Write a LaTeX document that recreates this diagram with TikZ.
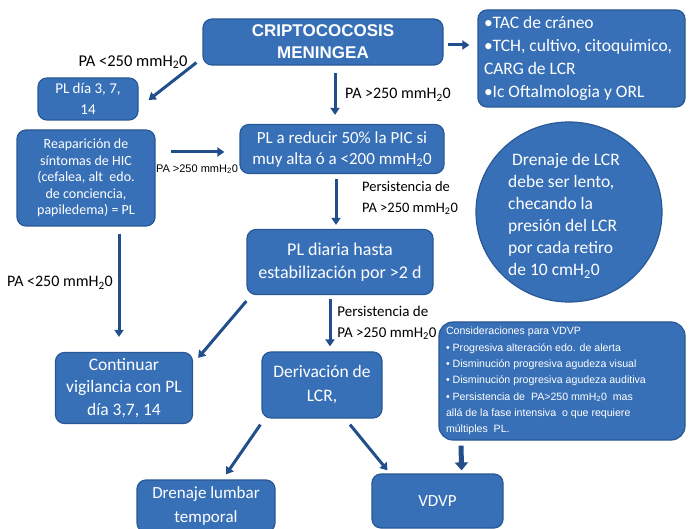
\documentclass[tikz,border=0pt]{standalone}
\usepackage{fontspec}
\setmainfont{Carlito}
\newfontfamily\arialf{Liberation Sans}
\usetikzlibrary{arrows.meta,shapes.geometric,calc}
\definecolor{boxblue}{RGB}{56,112,184}
\definecolor{boxedge}{RGB}{40,88,150}
\definecolor{arrowblue}{RGB}{35,78,140}
\tikzset{
  bx/.style={draw=boxedge, line width=1.2pt, fill=boxblue, rounded corners=9pt,
             text=white, align=center, inner sep=0pt},
  arr/.style={draw=arrowblue, line width=3pt, -{Triangle[length=7pt,width=9pt]}},
  arrthick/.style={draw=arrowblue, line width=5pt, -{Triangle[length=8pt,width=13pt]}},
  lbl/.style={text=black, inner sep=0pt, align=flush left},
}
\begin{document}
\begin{tikzpicture}[x=1pt,y=-1pt]
\useasboundingbox[fill=white] (0,0) rectangle (691,529);

% boxes
\node[bx, minimum width=240pt, minimum height=46pt,
      font=\arialf\bfseries\fontsize{17}{22}\selectfont] (cm) at (323,42) {CRIPTOCOCOSIS\\MENINGEA};
\node[bx, minimum width=207pt, minimum height=97pt, text width=195pt, align=flush left,
      font=\fontsize{17.5}{23}\selectfont] (tac) at (581.5,58.5)
      {•TAC de cráneo\\•TCH, cultivo, citoquimico,\\CARG de LCR\\•Ic Oftalmologia y ORL};
\node[bx, minimum width=100pt, minimum height=42pt,
      font=\fontsize{15}{21}\selectfont] (pld) at (88,99) {PL día 3, 7,\\14};
\node[bx, minimum width=138pt, minimum height=96pt,
      font=\fontsize{14}{16.5}\selectfont] (rea) at (86,178)
      {Reaparición de\\síntomas de HIC\\(cefalea, alt\ \ edo.\\de conciencia,\\papiledema) = PL};
\node[bx, minimum width=204pt, minimum height=49pt,
      font=\fontsize{17}{21}\selectfont] (plr) at (342,149)
      {PL a reducir 50\% la PIC si\\muy alta ó a <200 mmH\textsubscript{2}0};
\node[bx, minimum width=186pt, minimum height=65pt,
      font=\fontsize{18}{23}\selectfont] (pldi) at (340,262)
      {PL diaria hasta\\estabilización por >2 d};
\node[ellipse, draw=boxedge, line width=1.2pt, fill=boxblue, minimum width=186pt,
      minimum height=180pt, inner sep=0pt] (circ) at (569,212) {};
\node[lbl, text=white, font=\fontsize{17.5}{22}\selectfont] (circtxt) at (564,216)
      {\ Drenaje de LCR\\debe ser lento,\\checando la\\presión del LCR\\por cada retiro\\de 10 cmH\textsubscript{2}0};
\node[bx, minimum width=137pt, minimum height=71pt,
      font=\fontsize{17.5}{22.5}\selectfont] (cont) at (124,388)
      {Continuar\\vigilancia con PL\\día 3,7, 14};
\node[bx, minimum width=120pt, minimum height=66pt,
      font=\fontsize{17.5}{24}\selectfont] (der) at (322,385) {Derivación de\\LCR,};
\node[bx, minimum width=138pt, minimum height=52pt,
      font=\fontsize{17}{24}\selectfont] (dren) at (206,506) {Drenaje lumbar\\temporal};
\node[bx, minimum width=131pt, minimum height=54pt,
      font=\fontsize{17}{22}\selectfont] (vdvp) at (437.5,501) {VDVP};
\node[bx, rounded corners=14pt, minimum width=246pt, minimum height=118pt,
      text width=232pt, align=flush left,
      font=\arialf\fontsize{10.6}{16.3}\selectfont] (cons) at (562,381)
      {Consideraciones para VDVP\\• Progresiva alteración edo. de alerta\\• Disminución progresiva agudeza visual\\• Disminución progresiva agudeza auditiva\\• Persistencia de\ \ PA>250 mmH\textsubscript{2}0\ \ mas\\allá de la fase intensiva\ \ o que requiere\\múltiples\ \ PL.};

% labels
\node[lbl, font=\fontsize{16.5}{20}\selectfont] (l1) at (133,62) {PA <250 mmH\textsubscript{2}0};
\node[lbl, font=\fontsize{16}{20}\selectfont] (l2) at (398,95) {PA >250 mmH\textsubscript{2}0};
\node[lbl, font=\arialf\fontsize{11}{12}\selectfont] (l3) at (197,169) {PA >250 mmH\textsubscript{2}0};
\node[lbl, font=\fontsize{14.5}{21}\selectfont] (l4) at (410,198) {Persistencia de\\PA >250 mmH\textsubscript{2}0};
\node[lbl, font=\fontsize{16}{20}\selectfont] (l5) at (60,283) {PA <250 mmH\textsubscript{2}0};
\node[lbl, font=\fontsize{15}{21}\selectfont] (l6) at (387,323) {Persistencia de\\PA >250 mmH\textsubscript{2}0};

% connectors
\draw[arr] ($(cm.east)+(4,3)$) -- ($(tac.west |- cm.east)+(-8,3)$);
\draw[arr] ($(cm.south west)+(-6,-3)$) -- ($(pld.east)+(10,1)$);
\draw[arr] ($(cm.south)+(12,7)$) -- ($(plr.north)+(-7,-9)$);
\draw[arr] ($(rea.east)+(15,-26)$) -- ($(plr.west)+(-15,3)$);
\draw[arr] ($(plr.south)+(-6,5)$) -- ($(pldi.north)+(-4,-4)$);
\draw[arr] ($(rea.south)+(33,7)$) -- ($(cont.north)+(-5,-15)$);
\draw[arr] ($(pldi.south west)+(0,6)$) -- ($(cont.north east)+(5,6)$);
\draw[arr] ($(pldi.south)+(-10,4)$) -- ($(der.north)+(8,-5)$);
\draw[arr] ($(der.south west)+(-1,6)$) -- ($(dren.north)+(20,-5)$);
\draw[arr] ($(der.south)+(28,6)$) -- ($(vdvp.north)+(-50,-3)$);
\draw[arrthick] ($(cons.south)+(-101,5)$) -- ($(vdvp.north east)+(-42,-3)$);
\end{tikzpicture}
\end{document}
